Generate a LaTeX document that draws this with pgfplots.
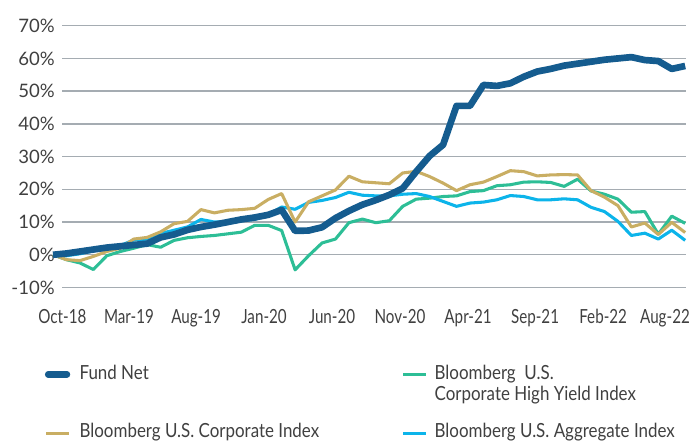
\documentclass[border=0pt]{standalone}
\usepackage{pgfplots}
\pgfplotsset{compat=1.18}
\usepackage{pgfplotstable}
\usepackage{fontspec}
\setmainfont{Lato}
\newfontfamily\condfont{Lato}[FakeStretch=0.78]
\newfontfamily\legfont{Lato}[FakeStretch=0.87]
\definecolor{fundc}{RGB}{21,92,143}
\definecolor{hyc}{RGB}{45,190,150}
\definecolor{corpc}{RGB}{201,174,99}
\definecolor{aggc}{RGB}{12,180,234}
\definecolor{gridc}{RGB}{165,172,178}
\definecolor{txtc}{RGB}{64,64,64}
\pgfplotstableread{
i fund hy corp agg
0 0 0 0 0
1 0.4 -1.5 -1.5 -0.3
2 1.0 -2.5 -1.8 0.3
3 1.6 -4.5 -0.5 1.2
4 2.2 -0.3 1.0 2.5
5 2.6 1.0 2.0 2.8
6 3.0 2.0 4.8 4.5
7 3.4 3.1 5.3 4.8
8 5.3 2.3 7.0 6.5
9 6.2 4.4 9.5 7.5
10 7.6 5.2 10.2 8.5
11 8.5 5.6 13.8 10.8
12 9.2 5.9 12.8 10.0
13 10.0 6.4 13.6 10.2
14 10.8 6.9 13.8 10.4
15 11.4 9.0 14.2 10.8
16 12.2 9.0 16.9 12.3
17 13.7 7.4 18.7 14.6
18 7.3 -4.6 10.0 13.9
19 7.4 -0.3 16.2 16.0
20 8.4 3.6 18.0 16.6
21 11.2 4.8 19.8 17.5
22 13.4 9.8 24.0 19.1
23 15.3 10.9 22.3 18.2
24 16.7 9.8 22.0 18.0
25 18.3 10.4 21.7 18.0
26 20.3 14.8 25.0 18.5
27 25.4 17.0 25.5 18.7
28 30.2 17.3 23.9 17.8
29 33.6 17.8 21.9 16.3
30 45.5 18.0 19.6 14.8
31 45.5 19.3 21.4 15.8
32 51.9 19.6 22.2 16.1
33 51.6 21.1 23.9 16.8
34 52.4 21.4 25.7 18.1
35 54.4 22.2 25.4 17.8
36 56.0 22.3 24.1 16.8
37 56.8 22.1 24.4 16.8
38 57.8 20.9 24.5 17.1
39 58.4 23.1 24.4 16.8
40 59.0 19.5 19.6 14.5
41 59.6 18.5 17.6 13.2
42 60.0 17.0 15.0 10.2
43 60.4 13.0 8.5 5.9
44 59.5 13.2 9.7 6.6
45 59.2 6.3 6.2 4.8
46 56.8 11.8 9.9 7.5
47 57.7 9.6 6.8 4.4
}\datatable
\begin{document}
\begin{tikzpicture}
\useasboundingbox (0,0) rectangle (522.75pt,330.75pt);
\begin{axis}[
  at={(46.5pt,115.125pt)}, anchor=south west,
  scale only axis, width=468pt, height=196.35pt,
  xmin=0.669, xmax=47.06, ymin=-10, ymax=70,
  clip=false,
  axis line style={draw=none},
  major tick length=0pt,
  ytick={-10,0,10,20,30,40,50,60,70},
  yticklabels={-10\%,0\%,10\%,20\%,30\%,40\%,50\%,60\%,70\%},
  ymajorgrids, grid style={gridc, line width=1pt},
  xtick={0.7,5.65,10.64,15.69,20.74,25.8,30.86,35.84,40.9,45.5},
  xticklabels={Oct-18,Mar-19,Aug-19,Jan-20,Jun-20,Nov-20,Apr-21,Sep-21,Feb-22,Aug-22},
  yticklabel style={font=\fontsize{13.9}{16}\selectfont, text=txtc, xshift=-2pt},
  xticklabel style={font=\condfont\fontsize{14.6}{17}\selectfont, text=txtc, yshift=-13pt},
  legend columns=2,
  legend style={at={(-0.031,-0.293)}, anchor=north west, draw=none, fill=none,
    inner sep=0pt, row sep=31.75pt,
    font=\legfont\fontsize{14.6}{15.75}\selectfont, text=txtc,
    nodes={inner sep=0pt, anchor=base west},
    /tikz/every odd column/.style={column sep=5.5pt},
    /tikz/every even column/.style={column sep=0pt}},
  legend cell align=left,
  legend image code/.code={\draw[#1] (0pt,3.6pt) -- (17pt,3.6pt);},
]
\addplot[hyc, line width=2.3pt, line join=round, forget plot] table[x=i,y=hy] {\datatable};
\addplot[aggc, line width=2.3pt, line join=round, forget plot] table[x=i,y=agg] {\datatable};
\addplot[corpc, line width=2.3pt, line join=round, forget plot] table[x=i,y=corp] {\datatable};
\addplot[fundc, line width=5pt, line join=round, forget plot] table[x=i,y=fund] {\datatable};
\addlegendimage{fundc, line width=5pt, line cap=round, shorten <=1.5pt, shorten >=1.5pt}
\addlegendentry{\makebox[241.5pt][l]{Fund Net}}
\addlegendimage{hyc, line width=2.3pt}
\addlegendentry{\begin{tabular}[t]{@{}l@{}}Bloomberg\ \ U.S.\\Corporate High Yield Index\end{tabular}}
\addlegendimage{corpc, line width=2.3pt}
\addlegendentry{\makebox[241.5pt][l]{Bloomberg U.S. Corporate Index}}
\addlegendimage{aggc, line width=2.3pt}
\addlegendentry{Bloomberg U.S. Aggregate Index}
\end{axis}
\end{tikzpicture}
\end{document}
